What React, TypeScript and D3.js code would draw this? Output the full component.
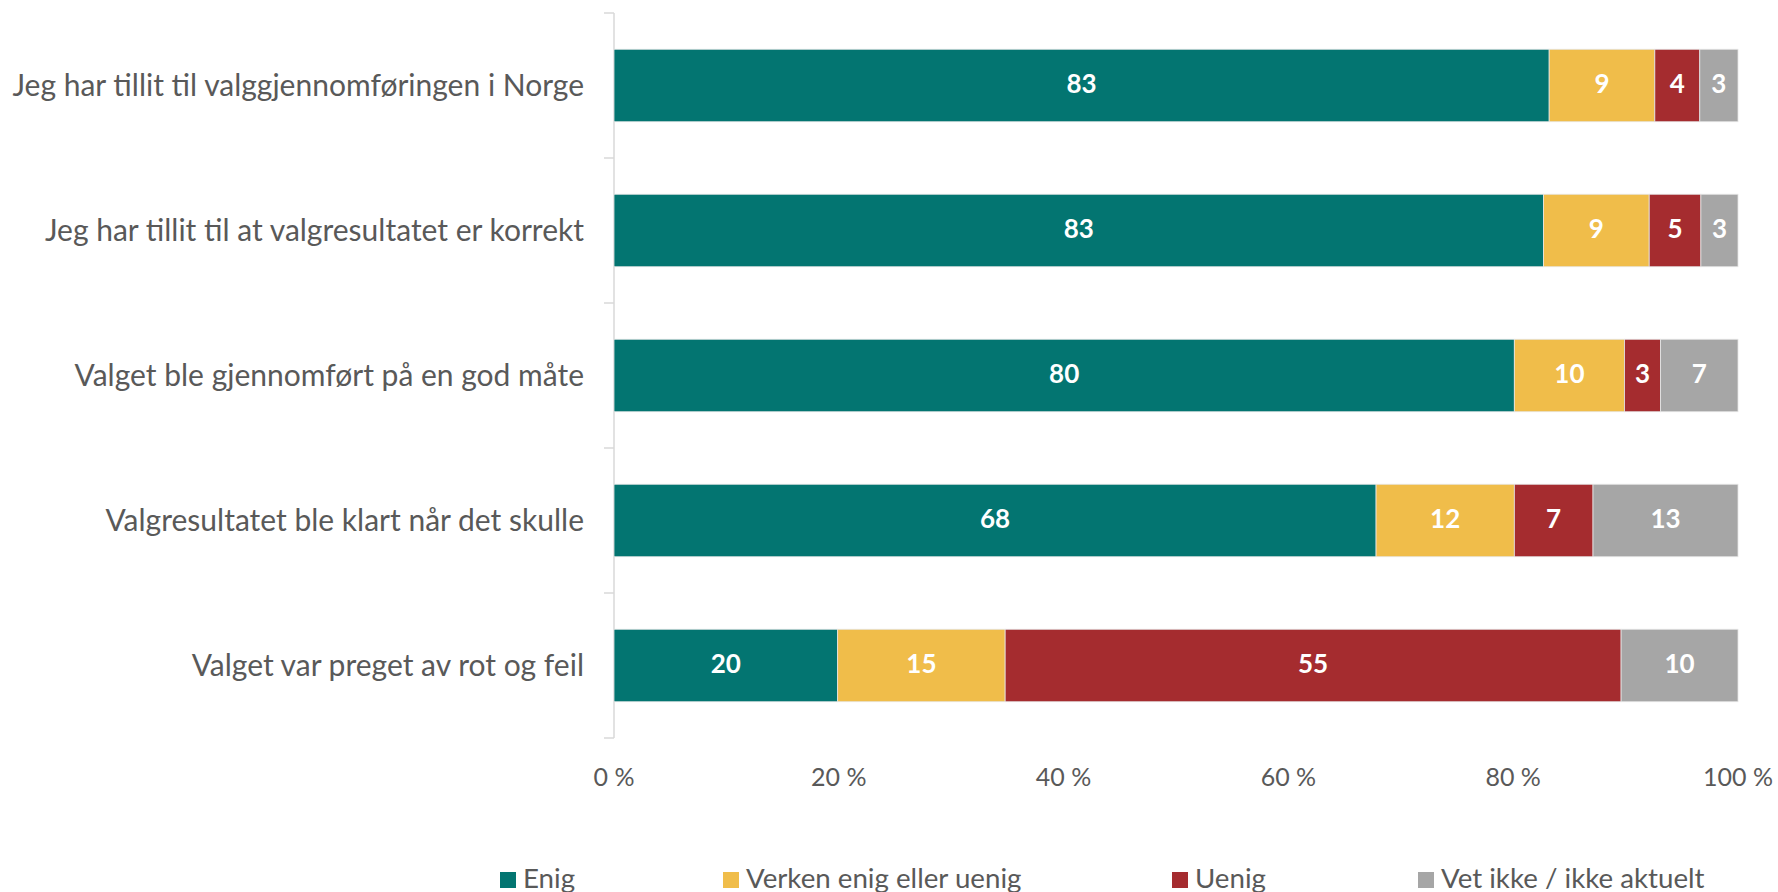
import React from "react";
import * as d3 from "d3";

const categories = [
  "Jeg har tillit til valggjennomføringen i Norge",
  "Jeg har tillit til at valgresultatet er korrekt",
  "Valget ble gjennomført på en god måte",
  "Valgresultatet ble klart når det skulle",
  "Valget var preget av rot og feil",
];
const seriesNames = ["Enig", "Verken enig eller uenig", "Uenig", "Vet ikke / ikke aktuelt"];
const enig = [83.2, 82.7, 80.1, 67.8, 19.9];
const verken = [9.4, 9.4, 9.8, 12.3, 14.9];
const uenig = [4.0, 4.6, 3.2, 7.0, 54.8];
const vetIkke = [3.4, 3.3, 6.9, 12.9, 10.4];
const xTicks = [0, 20, 40, 60, 80, 100];

const colors = ["#037571", "#F0BD4A", "#A52C2F", "#A6A6A6"];
const W = 1778;
const H = 892;
const FONT = "Lato, 'Open Sans', sans-serif";
const TEXT = "#595959";
const AXIS = "#D9D9D9";
const LEGEND_X = [500, 723, 1172, 1418];

export default function App() {
  const series = [enig, verken, uenig, vetIkke];
  const rows = categories.map((c, i) => {
    const vals = series.map((s) => s[i]);
    const total = d3.sum(vals);
    let acc = 0;
    return {
      cat: c,
      segs: vals.map((v, k) => {
        const x0 = (acc / total) * 100;
        acc += v;
        const x1 = (acc / total) * 100;
        return { k, v, x0, x1 };
      }),
    };
  });

  const x = d3.scaleLinear().domain([0, 100]).range([614, 1738]);
  const y = d3.scaleBand<string>().domain(categories).range([13, 738]).paddingInner(0.5).paddingOuter(0.25);
  const band = d3.scaleBand<string>().domain(categories).range([13, 738]);
  const fmt = d3.format(".0f");

  return (
    <svg width={W} height={H} style={{ position: "absolute", left: 0, top: 0, background: "#fff" }}>
      <line x1={614} x2={614} y1={13} y2={738} stroke={AXIS} strokeWidth={1.5} />
      {categories.map((c, i) => (
        <line key={"t" + i} x1={604} x2={614} y1={band(c)!} y2={band(c)!} stroke={AXIS} strokeWidth={1.5} />
      ))}
      <line x1={604} x2={614} y1={738} y2={738} stroke={AXIS} strokeWidth={1.5} />

      {rows.map((r, i) => (
        <g key={i}>
          {r.segs.map((s) => (
            <rect
              key={s.k}
              x={x(s.x0)}
              y={y(r.cat)!}
              width={x(s.x1) - x(s.x0)}
              height={y.bandwidth()}
              fill={colors[s.k]}
              stroke="#E6E6E6"
              strokeWidth={0.8}
            />
          ))}
          {r.segs.map((s) => (
            <text
              key={"l" + s.k}
              x={(x(s.x0) + x(s.x1)) / 2}
              y={y(r.cat)! + y.bandwidth() / 2 - 3}
              textAnchor="middle"
              dominantBaseline="central"
              fill="#fff"
              fontFamily={FONT}
              fontWeight={700}
              fontSize={26}
            >
              {fmt(s.v)}
            </text>
          ))}
          <text
            x={584}
            y={y(r.cat)! + y.bandwidth() / 2 - 2}
            textAnchor="end"
            dominantBaseline="central"
            fill={TEXT}
            fontFamily={FONT}
            fontSize={30}
          >
            {r.cat}
          </text>
        </g>
      ))}

      {xTicks.map((t) => (
        <text
          key={t}
          x={x(t)}
          y={776}
          textAnchor="middle"
          dominantBaseline="central"
          fill={TEXT}
          fontFamily={FONT}
          fontSize={25}
        >
          {t + " %"}
        </text>
      ))}

      {seriesNames.map((n, k) => (
        <g key={n}>
          <rect x={LEGEND_X[k]} y={872} width={16} height={16} fill={colors[k]} />
          <text x={LEGEND_X[k] + 23} y={888} fill={TEXT} fontFamily={FONT} fontSize={27.7}>
            {n}
          </text>
        </g>
      ))}
    </svg>
  );
}
